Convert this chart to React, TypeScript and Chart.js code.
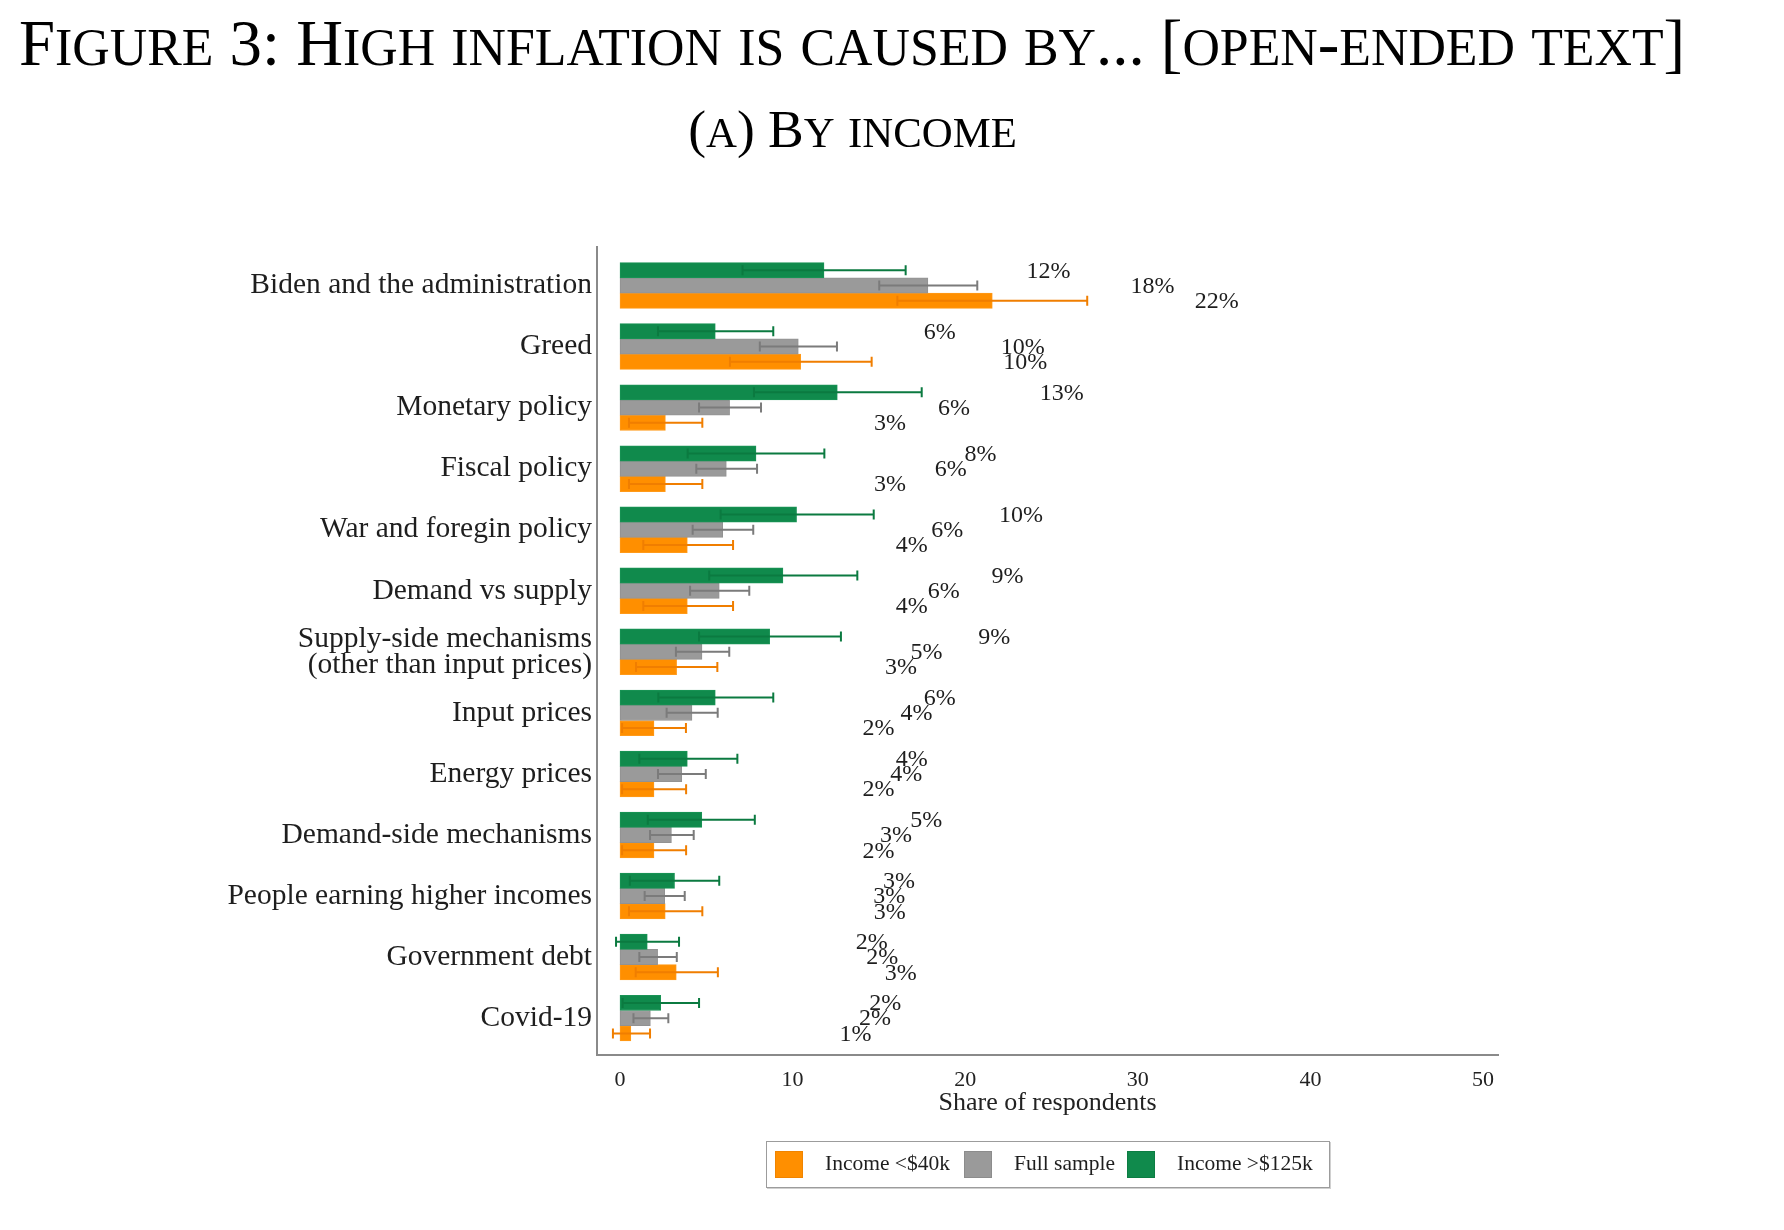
import React, { useEffect, useRef } from 'react';
import { Chart, registerables } from 'chart.js';

Chart.register(...registerables);

const categories: (string | string[])[] = [
  'Biden and the administration',
  'Greed',
  'Monetary policy',
  'Fiscal policy',
  'War and foregin policy',
  'Demand vs supply',
  ['Supply-side mechanisms', '(other than input prices)'],
  'Input prices',
  'Energy prices',
  'Demand-side mechanisms',
  'People earning higher incomes',
  'Government debt',
  'Covid-19',
];

// Income > $125k
const highIncome = [11.82, 5.52, 12.59, 7.88, 10.23, 9.44, 8.67, 5.52, 3.9, 4.74, 3.16, 1.58, 2.36];
const highLow = [7.1, 2.2, 7.76, 3.92, 5.83, 5.17, 4.58, 2.22, 1.12, 1.61, 0.57, -0.23, 0.15];
const highHigh = [16.55, 8.88, 17.48, 11.84, 14.7, 13.75, 12.8, 8.88, 6.8, 7.81, 5.75, 3.42, 4.58];

// Full sample
const fullSample = [17.84, 10.33, 6.35, 6.16, 5.95, 5.75, 4.75, 4.17, 3.58, 2.98, 2.59, 2.18, 1.76];
const fullLow = [15.02, 8.1, 4.58, 4.42, 4.21, 4.06, 3.24, 2.7, 2.2, 1.74, 1.43, 1.12, 0.78];
const fullHigh = [20.7, 12.57, 8.17, 7.94, 7.72, 7.49, 6.33, 5.66, 4.97, 4.27, 3.75, 3.29, 2.8];

// Income < $40k
const lowIncome = [21.57, 10.47, 2.63, 2.63, 3.9, 3.9, 3.28, 1.97, 1.97, 1.97, 2.62, 3.26, 0.63];
const lowLow = [16.07, 6.37, 0.52, 0.52, 1.35, 1.35, 0.93, 0.12, 0.12, 0.12, 0.52, 0.91, -0.41];
const lowHigh = [27.07, 14.58, 4.77, 4.77, 6.55, 6.55, 5.64, 3.82, 3.83, 3.83, 4.77, 5.67, 1.74];

const xTicks = [0, 10, 20, 30, 40, 50];

const legendItems = [
  { label: 'Income <$40k', fill: '#ff8f00', border: '#f08400' },
  { label: 'Full sample', fill: '#9a9a9a', border: '#8c8c8c' },
  { label: 'Income >$125k', fill: '#108a4c', border: '#0c7d43' },
];

const SERIF = "'Liberation Serif', 'Times New Roman', serif";

const seriesStyle = [
  { fill: '#108a4c', border: '#1a9456', err: '#0b7a40' },
  { fill: '#9a9a9a', border: '#929292', err: '#7b7b7b' },
  { fill: '#ff8f00', border: '#ff9a1a', err: '#f07e00' },
];

const errorBarsPlugin = {
  id: 'errorBars',
  afterDatasetsDraw(chart: any) {
    const ctx = chart.ctx;
    const xs = chart.scales.x;
    ctx.save();
    chart.data.datasets.forEach((ds: any, di: number) => {
      const meta = chart.getDatasetMeta(di);
      ctx.strokeStyle = seriesStyle[di].err;
      ctx.lineWidth = 2;
      meta.data.forEach((el: any, i: number) => {
        const lo = xs.getPixelForValue(ds.errLow[i]);
        const hi = xs.getPixelForValue(ds.errHigh[i]);
        const y = el.y;
        ctx.beginPath();
        ctx.moveTo(lo, y);
        ctx.lineTo(hi, y);
        ctx.moveTo(lo, y - 5);
        ctx.lineTo(lo, y + 5);
        ctx.moveTo(hi, y - 5);
        ctx.lineTo(hi, y + 5);
        ctx.stroke();
      });
    });
    ctx.restore();
  },
};

const valueLabelsPlugin = {
  id: 'valueLabels',
  afterDatasetsDraw(chart: any) {
    const ctx = chart.ctx;
    ctx.save();
    ctx.font = `24px ${SERIF}`;
    ctx.fillStyle = '#1e1e1e';
    ctx.textAlign = 'center';
    ctx.textBaseline = 'middle';
    chart.data.datasets.forEach((ds: any, di: number) => {
      const meta = chart.getDatasetMeta(di);
      meta.data.forEach((el: any, i: number) => {
        const v = ds.data[i].x;
        ctx.fillText(Math.round(v) + '%', el.x + 224.5, el.y + 1);
      });
    });
    ctx.restore();
  },
};

function SmallCaps({ text, ratio }: { text: string; ratio: number }) {
  const parts: { t: string; small: boolean }[] = [];
  for (const ch of text) {
    const small = ch >= 'a' && ch <= 'z';
    const last = parts[parts.length - 1];
    if (last && last.small === small) last.t += small ? ch.toUpperCase() : ch;
    else parts.push({ t: small ? ch.toUpperCase() : ch, small });
  }
  return (
    <>
      {parts.map((p, i) =>
        p.small ? (
          <span key={i} style={{ fontSize: `${ratio}em` }}>
            {p.t}
          </span>
        ) : (
          <span key={i}>{p.t}</span>
        )
      )}
    </>
  );
}

export default function App() {
  const canvasRef = useRef<HTMLCanvasElement>(null);

  useEffect(() => {
    const mk = (vals: number[]) => vals.map((v, i) => ({ x: v, y: i }));
    const chart = new Chart(canvasRef.current as HTMLCanvasElement, {
      type: 'bar',
      data: {
        datasets: [
          { label: 'Income >$125k', data: mk(highIncome), errLow: highLow, errHigh: highHigh } as any,
          { label: 'Full sample', data: mk(fullSample), errLow: fullLow, errHigh: fullHigh } as any,
          { label: 'Income <$40k', data: mk(lowIncome), errLow: lowLow, errHigh: lowHigh } as any,
        ].map((d: any, i: number) => ({
          ...d,
          backgroundColor: seriesStyle[i].fill,
          borderColor: seriesStyle[i].border,
          borderWidth: 1,
          borderSkipped: false,
          barThickness: 15.25,
        })),
      },
      options: {
        indexAxis: 'y',
        responsive: false,
        animation: false,
        layout: { padding: { left: 0, top: 247, right: 286, bottom: 0 } },
        plugins: {
          legend: { display: false },
          tooltip: { enabled: false },
          title: { display: false },
        },
        scales: {
          x: {
            type: 'linear',
            min: -1.333,
            max: 50.87,
            offset: false,
            afterBuildTicks: (s: any) => {
              s.ticks = xTicks.map((v) => ({ value: v }));
            },
            afterFit: (s: any) => {
              s.height = 175;
            },
            grid: { display: false, drawTicks: false },
            border: { display: true, color: '#8a8a8a', width: 2 },
            ticks: {
              autoSkip: false,
              maxRotation: 0,
              padding: 12,
              color: '#222',
              font: { family: SERIF, size: 22 },
            },
            title: {
              display: true,
              text: 'Share of respondents',
              color: '#222',
              font: { family: SERIF, size: 26 },
              padding: { top: 0, bottom: 111 },
            },
          },
          y: {
            type: 'linear',
            reverse: true,
            offset: false,
            min: -0.631,
            max: 12.604,
            afterBuildTicks: (s: any) => {
              s.ticks = categories.map((_, i) => ({ value: i }));
            },
            afterFit: (s: any) => {
              s.width = 597;
            },
            grid: { display: false, drawTicks: false, offset: false },
            border: { display: true, color: '#8a8a8a', width: 2 },
            ticks: {
              autoSkip: false,
              padding: 5,
              color: '#1e1e1e',
              font: { family: SERIF, size: 29.5, lineHeight: '26px' },
              callback: (v: any) => categories[Math.round(Number(v))] as any,
            },
          },
        },
      } as any,
      plugins: [errorBarsPlugin, valueLabelsPlugin],
    });
    return () => chart.destroy();
  }, []);

  const titleSize = 64.8;
  const subSize = 53.5;

  return (
    <div
      style={{
        position: 'absolute',
        left: 0,
        top: 0,
        width: 1784,
        height: 1230,
        background: '#fff',
        overflow: 'hidden',
        fontFamily: SERIF,
        color: '#000',
      }}
    >
      <canvas
        ref={canvasRef}
        width={1784}
        height={1230}
        style={{ position: 'absolute', left: 0, top: 0, width: 1784, height: 1230 }}
      />
      <div
        style={{
          position: 'absolute',
          left: 19,
          top: 65 - 0.8375 * titleSize,
          fontSize: titleSize,
          lineHeight: 1,
          whiteSpace: 'nowrap',
        }}
      >
        <SmallCaps text="Figure 3: High inflation is caused by... [open-ended text]" ratio={0.8} />
      </div>
      <div
        style={{
          position: 'absolute',
          left: 852.5,
          top: 148 - 0.8375 * subSize,
          transform: 'translateX(-50%)',
          fontSize: subSize,
          lineHeight: 1,
          whiteSpace: 'nowrap',
        }}
      >
        <SmallCaps text="(a) By income" ratio={0.8} />
      </div>
      <div
        style={{
          position: 'absolute',
          left: 766,
          top: 1141,
          width: 564,
          height: 47,
          boxSizing: 'border-box',
          border: '1.5px solid #9c9c9c',
          boxShadow: '1px 1px 0 #d0d0d0',
        }}
      />
      {legendItems.map((it, i) => {
        const sx = [775, 964, 1127][i];
        const tx = [825, 1014, 1177][i];
        return (
          <React.Fragment key={i}>
            <div
              style={{
                position: 'absolute',
                left: sx,
                top: 1151,
                width: 28,
                height: 27,
                boxSizing: 'border-box',
                background: it.fill,
                border: `1px solid ${it.border}`,
              }}
            />
            <div
              style={{
                position: 'absolute',
                left: tx,
                top: 1171.5 - 0.8375 * 21.5,
                fontSize: 21.5,
                lineHeight: 1,
                whiteSpace: 'nowrap',
                color: '#1e1e1e',
              }}
            >
              {it.label}
            </div>
          </React.Fragment>
        );
      })}
    </div>
  );
}
